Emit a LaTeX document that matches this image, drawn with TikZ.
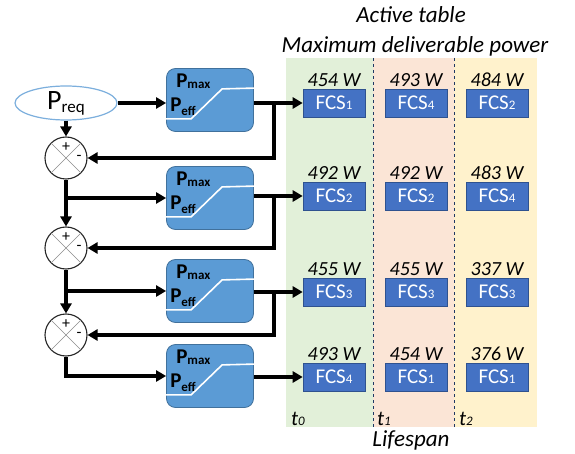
\documentclass[tikz,border=0pt]{standalone}
\usepackage{fontspec}
\setmainfont{Carlito}
\usetikzlibrary{arrows.meta,shapes.geometric,calc}
\definecolor{bggreen}{HTML}{E2F0D9}
\definecolor{bgpink}{HTML}{FBE5D6}
\definecolor{bgyellow}{HTML}{FFF2CC}
\definecolor{blkfill}{HTML}{5B9BD5}
\definecolor{blkedge}{HTML}{41719C}
\definecolor{fcsfill}{HTML}{4472C4}
\definecolor{fcsedge}{HTML}{2F528F}
\definecolor{dashcol}{HTML}{1F3864}
\newcommand\subtxt[3]{\raisebox{-#2}{\fontsize{#1}{#1}\selectfont #3}}

\begin{document}
\begin{tikzpicture}[x=1pt,y=-1pt,
        blk/.style={draw=blkedge, fill=blkfill, rounded corners=9pt, line width=0.8pt,
            minimum width=87pt, minimum height=63pt},
        fcs/.style={draw=fcsedge, fill=fcsfill, text=white, line width=0.6pt,
            minimum width=62pt, minimum height=28pt, inner sep=0pt, font=\fontsize{21}{21}\selectfont},
        watt/.style={anchor=base, inner sep=0pt, font=\fontsize{20}{20}\selectfont\itshape},
        sumnode/.style={draw=black!85, fill=white, circle, minimum size=42pt, inner sep=0pt, line width=1.1pt},
        link/.style={line width=3.2pt, -{Triangle[length=10pt,width=11pt]}},
        title/.style={anchor=base, inner sep=0pt, font=\fontsize{23}{23}\selectfont\itshape}]
        \useasboundingbox (0,0) rectangle (575,454);
        \fill[bggreen] (286,58) rectangle (373,427);
        \fill[bgpink] (373,58) rectangle (454,427);
        \fill[bgyellow] (454,58) rectangle (537,427);
        \foreach \x in {373,454} {
            \path[draw=dashcol, dashed, line width=0.9pt] (\x,58) -- (\x,427);
        }
        \node[title] (head) at (411,23) {Active table};
        \node[title] (subhead) at (415,53) {Maximum deliverable power};
        \node[title] (life) at (411,446) {Lifespan};
        \foreach \k/\x in {0/291,1/377,2/459} {
            \node[anchor=base west, inner sep=0pt, font=\fontsize{21}{21}\selectfont\itshape]
                (time\k) at (\x,425) {t\subtxt{13}{0pt}{\k}};
        }
        \foreach \n/\x/\y/\k/\w in {01/334/103/1/454, 02/334/196/2/492, 03/334/292/3/455, 04/334/377/4/493,
                11/416/103/4/493, 12/416/196/2/492, 13/416/292/3/455, 14/416/377/1/454,
                21/497/103/2/484, 22/497/196/4/483, 23/497/292/3/337, 24/497/377/1/376} {
            \node[fcs] (fcs\n) at (\x,\y) {FCS\subtxt{13}{0pt}{\k}};
            \node[watt] (watt\n) at ([yshift=2pt]fcs\n.north) {\w~W};
        }
        \node[ellipse, draw=blkfill!80, fill=white, line width=1.2pt, minimum width=102pt, minimum height=34pt,
            inner sep=0pt, font=\fontsize{28}{28}\selectfont] (preq) at (66,103) {P\subtxt{17}{3pt}{req}};
        \foreach \i/\y in {1/100,2/198,3/291,4/376} {
            \node[blk] (b\i) at (210,\y) {};
            \path[draw=white, line width=1.6pt] ([yshift=13pt]b\i.south west) -- ++(25,0) -- ++(31,-30)
                -- ([yshift=-20pt]b\i.north east);
            \node[anchor=base west, inner sep=0pt, font=\fontsize{21}{21}\selectfont\bfseries]
                (pmax\i) at ([xshift=10pt,yshift=-19pt]b\i.north west) {P\subtxt{13}{1pt}{max}};
            \node[anchor=base west, inner sep=0pt, font=\fontsize{21}{21}\selectfont\bfseries]
                (peff\i) at ([xshift=4pt,yshift=20pt]b\i.south west) {P\subtxt{13}{4pt}{eff}};
            \draw[link] (b\i.east |- fcs0\i.west) -- (fcs0\i.west);
        }
        \foreach \i/\y in {1/158,2/248,3/335} {
            \node[sumnode] (s\i) at (66,\y) {};
            \path[draw=black!45, line width=0.7pt] (s\i.north west) -- (s\i.south east)
                (s\i.north east) -- (s\i.south west);
            \node[inner sep=0pt, font=\fontsize{16}{16}\selectfont] (plus\i) at ([yshift=11pt]s\i.center) {+};
            \node[inner sep=0pt, font=\fontsize{16}{16}\selectfont] (minus\i) at ([xshift=13pt]s\i.center) {-};
            \coordinate (j\i) at ($(b\i.east |- fcs0\i.west)+(20,0)$);
            \draw[line width=3.2pt] (j\i) -- ++(0,-1.6);
            \draw[link] (j\i) |- (s\i.east);
        }
        \draw[link] (preq.east) -- (preq.east -| b1.west);
        \draw[link] (preq) -- (s1);
        \draw[link] (s1) -- (s2);
        \draw[link] (s2) -- (s3);
        \draw[link] (s1.south |- b2) -- (b2.west);
        \draw[link] (s2.south |- b3) -- (b3.west);
        \draw[link] (s3.south) |- (b4.west);
\end{tikzpicture}
\end{document}
